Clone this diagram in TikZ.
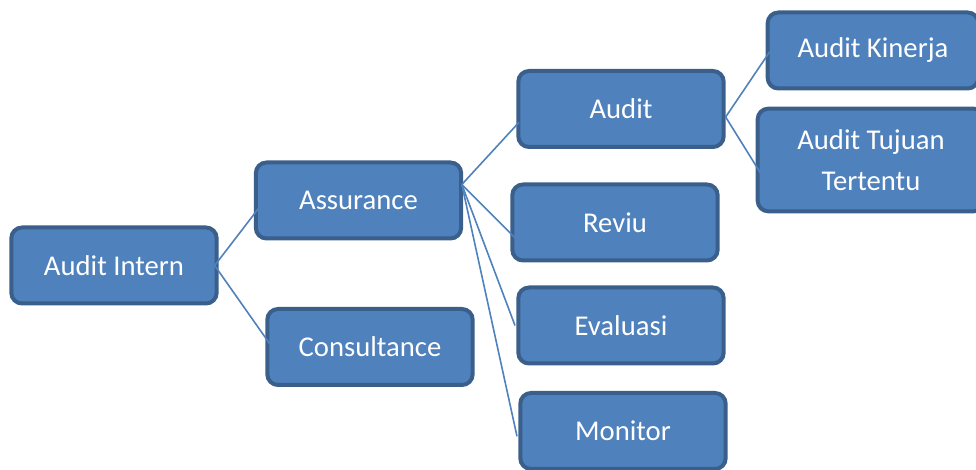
\documentclass[tikz,border=0pt]{standalone}
\usepackage{fontspec}
\setmainfont{Carlito}
\definecolor{boxfill}{HTML}{4F81BD}
\definecolor{boxline}{HTML}{3A5F8B}
\begin{document}
\begin{tikzpicture}[
    x=0.75pt, y=-0.75pt,
    box/.style={draw=boxline, line width=3pt, fill=boxfill, rounded corners=8pt, minimum width=#1, minimum height=57pt, align=center, text=white, font=\fontsize{21.5}{31}\selectfont},
    box/.default=154pt,
    link/.style={draw=boxfill, line width=1.2pt}
]
    \clip (0,0) rectangle (976,470);

    % Levels
    \node[box] (intern) at (114,265.5) {Audit Intern};
    \node[box] (assurance) at (358.5,200.5) {Assurance};
    \node[box] (consult) at (370,347) {Consultance};

    \node[box] (audit) at (621,109) {Audit};
    \node[box] (reviu) at (615,222.5) {Reviu};
    \node[box] (evaluasi) at (621,325.5) {Evaluasi};
    \node[box] (monitor) at (623,431) {Monitor};

    \node[box=158pt] (kinerja) at (873,50.5) {Audit Kinerja};
    \node[box=170pt, minimum height=77pt] (tujuan) at (871,160) {Audit Tujuan\\Tertentu};

    % Links
    \draw[link] ([xshift=-3pt]intern.east) -- ([xshift=5pt,yshift=-4pt]assurance.west);
    \draw[link] ([xshift=-3pt]intern.east) -- ([xshift=5pt]consult.west);

    \draw[link] ([xshift=-1pt,yshift=12pt]assurance.east) -- ([xshift=2pt,yshift=-10pt]audit.west);
    \draw[link] ([xshift=-1pt,yshift=12pt]assurance.east) -- ([xshift=4pt,yshift=-12pt]reviu.west);
    \draw[link] ([xshift=-1pt,yshift=12pt]assurance.east) -- ([xshift=-1pt]evaluasi.west);
    \draw[link] ([xshift=-1pt,yshift=12pt]assurance.east) -- ([xshift=-1pt,yshift=-4pt]monitor.west);

    \draw[link] ([yshift=-6pt]audit.east) -- ([xshift=3pt,yshift=-1pt]kinerja.west);
    \draw[link] ([yshift=-6pt]audit.east) -- ([xshift=5pt,yshift=-12pt]tujuan.west);

\end{tikzpicture}
\end{document}
